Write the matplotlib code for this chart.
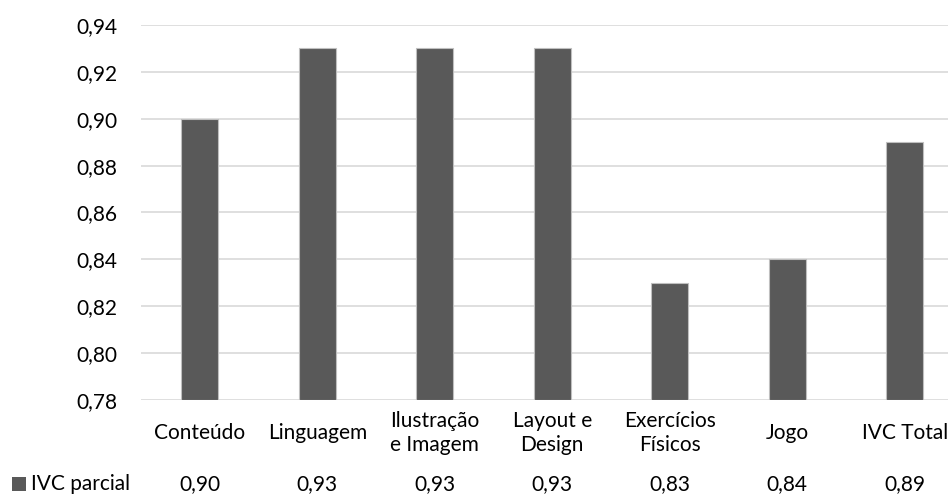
import matplotlib
matplotlib.use("Agg")
import matplotlib.pyplot as plt
from matplotlib.transforms import blended_transform_factory
from matplotlib.patches import Rectangle

categories = ["Conteúdo", "Linguagem", "Ilustração\ne Imagem", "Layout e\nDesign",
              "Exercícios\nFísicos", "Jogo", "IVC Total"]
ivc_parcial = [0.90, 0.93, 0.93, 0.93, 0.83, 0.84, 0.89]
value_labels = ["0,90", "0,93", "0,93", "0,93", "0,83", "0,84", "0,89"]
y_ticks = [0.78, 0.80, 0.82, 0.84, 0.86, 0.88, 0.90, 0.92, 0.94]
series_name = "IVC parcial"

plt.rcParams['font.family'] = ['Lato', 'DejaVu Sans']
FS = 15

W, H = 948, 494
fig = plt.figure(figsize=(W / 100, H / 100), dpi=100)
# axes box in pixel coordinates (right edge runs past the canvas)
left, right, top, bottom = 141, 963.5, 25, 400
ax = fig.add_axes([left / W, 1 - bottom / H, (right - left) / W, (bottom - top) / H])

x = list(range(len(categories)))
ax.bar(x, [v - 0.78 for v in ivc_parcial], bottom=0.78, width=0.315,
       color="#595959", edgecolor="#bfbfbf", linewidth=0.8, zorder=3)

ax.set_xlim(-0.5, len(categories) - 0.5)
ax.set_ylim(0.78, 0.94)
ax.set_yticks(y_ticks)
ax.set_yticklabels([f"{t:.2f}".replace(".", ",") for t in y_ticks], fontsize=FS)
ax.yaxis.grid(True, color="#d9d9d9", linewidth=1.2, zorder=0)
ax.tick_params(axis="y", length=0, pad=17)
ax.tick_params(axis="x", length=0, labelbottom=False)
for s in ax.spines.values():
    s.set_visible(False)

trans = blended_transform_factory(ax.transData, fig.transFigure)
for xi, lab, val in zip(x, categories, value_labels):
    ax.text(xi, 1 - 433 / H, lab, transform=trans, ha="center", va="center",
            fontsize=FS, linespacing=1.3, clip_on=False)
    ax.text(xi, 1 - 484 / H, val, transform=trans, ha="center", va="center",
            fontsize=FS, clip_on=False)

fig.patches.append(Rectangle((12 / W, 1 - 491 / H), 14 / W, 14 / H,
                             transform=fig.transFigure, facecolor="#595959",
                             edgecolor="none"))
fig.text(31 / W, 1 - 484 / H, series_name, ha="left", va="center", fontsize=FS)

fig.savefig("out.png", dpi=100)
